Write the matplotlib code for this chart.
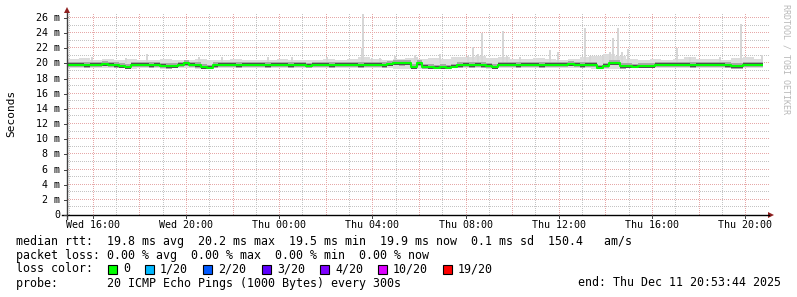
import numpy as np
import matplotlib
matplotlib.use("Agg")
import matplotlib.pyplot as plt
from matplotlib.lines import Line2D
from matplotlib.patches import Polygon, Rectangle

# ---------------- data ----------------
t_start = 14 + 53 / 60 + 44 / 3600          # Wed 14:53:44 (hours since Wed 00:00)
t_end = t_start + 30.0                      # Thu 20:53:44
data_end = t_start + 29.85

# median rtt (ms), 15-minute bins
median_ms = [
    19.8, 19.85, 19.8, 19.75, 19.85, 19.8, 19.9, 19.8, 19.75, 19.6,
    19.5, 19.8, 19.85, 19.8, 19.75, 19.8, 19.7, 19.6, 19.6, 19.85,
    20.0, 19.8, 19.75, 19.5, 19.45, 19.75, 19.8, 19.85, 19.8, 19.75,
    19.8, 19.85, 19.8, 19.8, 19.75, 19.8, 19.85, 19.8, 19.75, 19.8,
    19.8, 19.7, 19.8, 19.85, 19.8, 19.75, 19.8, 19.8, 19.85, 19.8,
    19.75, 19.8, 19.85, 19.8, 19.75, 19.9, 20.05, 20.0, 20.05, 19.5,
    20.0, 19.55, 19.5, 19.45, 19.5, 19.45, 19.55, 19.75, 19.8, 19.75,
    19.8, 19.75, 19.7, 19.5, 19.8, 19.85, 19.8, 19.75, 19.8, 19.85,
    19.8, 19.75, 19.8, 19.85, 19.8, 19.8, 19.9, 19.8, 19.75, 19.8,
    19.8, 19.45, 19.7, 20.05, 20.05, 19.6, 19.6, 19.55, 19.6, 19.65,
    19.6, 19.8, 19.85, 19.8, 19.8, 19.85, 19.8, 19.75, 19.8, 19.85,
    19.8, 19.85, 19.8, 19.75, 19.6, 19.6, 19.8, 19.85, 19.8, 19.8,
]

# smoke extent (ms), 30-minute bins
smoke_max_ms = [
    20.6, 20.7, 20.5, 20.6, 20.5, 20.6, 20.5, 20.4, 20.6, 20.5,
    20.5, 20.6, 20.4, 20.5, 20.6, 20.5, 20.4, 20.5, 20.6, 20.5,
    20.5, 20.4, 20.6, 20.5, 20.6, 20.8, 20.6, 20.5, 20.6, 20.7,
    20.6, 20.7, 20.6, 20.8, 20.9, 21.0, 20.7, 20.8, 20.6, 20.6,
    20.7, 20.6, 20.5, 20.6, 20.8, 21.0, 21.3, 21.0, 20.6, 20.5,
    20.6, 20.5, 20.6, 20.8, 20.6, 20.6, 20.5, 20.7, 20.8, 20.6,
]
smoke_min_ms = [
    19.4, 19.4, 19.45, 19.4, 19.4, 19.3, 19.4, 19.4, 19.3, 19.4,
    19.4, 19.2, 19.4, 19.4, 19.4, 19.4, 19.45, 19.4, 19.4, 19.4,
    19.4, 19.4, 19.4, 19.45, 19.4, 19.4, 19.4, 19.4, 19.3, 19.2,
    19.3, 19.2, 19.25, 19.4, 19.4, 19.4, 19.3, 19.4, 19.4, 19.4,
    19.4, 19.4, 19.45, 19.4, 19.4, 19.2, 19.3, 19.3, 19.35, 19.4,
    19.4, 19.4, 19.4, 19.4, 19.45, 19.4, 19.4, 19.3, 19.4, 19.4,
]

# isolated high pings (hour, ms)
spike_hours = [15.97, 17.43, 18.33, 20.56, 21.55, 23.52, 24.55, 26.06, 27.56, 27.60,
               27.99, 28.33, 28.97, 29.83, 29.92, 30.91, 32.11, 32.32, 32.54, 32.71,
               33.61, 33.78, 34.34, 35.63, 35.97, 37.13, 37.34, 37.90, 38.20, 38.33,
               38.54, 38.72, 38.97, 41.08, 41.63, 42.92, 43.82, 44.72]
spike_ms = [20.8, 20.7, 21.2, 20.8, 20.8, 20.8, 20.8, 20.8, 22.0, 26.5,
            20.7, 20.7, 21.0, 21.1, 20.8, 21.3, 21.0, 22.2, 21.3, 24.0,
            24.3, 21.0, 20.9, 21.8, 21.5, 24.7, 21.0, 21.0, 21.5, 23.4,
            24.7, 21.5, 21.9, 22.0, 20.9, 20.8, 25.2, 21.1]

y_ticks = [0, 2, 4, 6, 8, 10, 12, 14, 16, 18, 20, 22, 24, 26]
y_labels = ["0", "2 m", "4 m", "6 m", "8 m", "10 m", "12 m", "14 m", "16 m",
            "18 m", "20 m", "22 m", "24 m", "26 m"]
x_ticks = [16, 20, 24, 28, 32, 36, 40, 44]
x_labels = ["Wed 16:00", "Wed 20:00", "Thu 00:00", "Thu 04:00", "Thu 08:00",
            "Thu 12:00", "Thu 16:00", "Thu 20:00"]

loss_labels = ["0", "1/20", "2/20", "3/20", "4/20", "10/20", "19/20"]
loss_colors = ["#00ff00", "#00b8ff", "#0059ff", "#5e00ff", "#7e00ff", "#dd00ff", "#ff0000"]

# ---------------- figure ----------------
W, H = 797, 297
fig = plt.figure(figsize=(W / 100, H / 100), dpi=100)
fig.patch.set_facecolor("white")

def fx(x):
    return x / W

def fy(y):
    return 1 - y / H

PXH = 23.3     # pixels per hour
PXM = 7.58     # pixels per ms
ax_left, ax_right, ax_top, ax_bottom = 67, 768, 13, 215
ax = fig.add_axes([fx(ax_left), fy(ax_bottom), (ax_right - ax_left) / W, (ax_bottom - ax_top) / H])
ax.set_xlim(t_start, t_start + (ax_right - ax_left) / PXH)
ax.set_ylim(0, (ax_bottom - ax_top) / PXM)
for s in ax.spines.values():
    s.set_visible(False)
ax.set_xticks([])
ax.set_yticks([])
ax.set_facecolor("white")

xl = ax.get_xlim()
yl = ax.get_ylim()
# dotted grid drawn as single-pixel dots every 2 px
xs_dots = xl[0] + (np.arange(0.5, ax_right - ax_left, 2.0)) / PXH
ys_dots = yl[0] + (np.arange(0.5, ax_bottom - ax_top, 2.0)) / PXM
minor_col, major_col = "#c4c4c4", "#e6a8a8"
hours = np.arange(int(np.ceil(xl[0])), int(np.floor(xl[1])) + 1)
for v in range(1, 27):
    col = major_col if v % 2 == 0 else minor_col
    ax.plot(xs_dots, np.full_like(xs_dots, v), ls="none", marker=",", color=col, zorder=1)
for hh in hours:
    col = major_col if hh % 2 == 0 else minor_col
    ax.plot(np.full_like(ys_dots, hh), ys_dots, ls="none", marker=",", color=col, zorder=1)

# smoke
med = np.array(median_ms)
n = len(med)
edges = t_start + np.arange(n + 1) * 0.25
edges[-1] = data_end
smax = np.repeat(np.array(smoke_max_ms), 2)
smin = np.repeat(np.array(smoke_min_ms), 2)
tt = np.repeat(edges, 2)[1:-1]

def stepify(a):
    return np.repeat(a, 2)

ax.fill_between(tt, stepify(smin), stepify(smax), color="#dcdcdc", lw=0, zorder=2)
ax.bar(spike_hours, np.array(spike_ms) - 20.0, bottom=20.0, width=0.085,
       color="#d6d6d6", lw=0, zorder=2, align="center")
mid_lo = np.maximum(med - 0.3, smin)
mid_hi = np.minimum(med + 0.4, smax)
ax.fill_between(tt, stepify(mid_lo), stepify(mid_hi), color="#a8a8a8", lw=0, zorder=3)
ax.fill_between(tt, stepify(med - 0.2), stepify(med + 0.2), color="#505050", lw=0, zorder=4)
ax.plot(tt, stepify(med), color="#00ff00", lw=1.5, zorder=5, solid_capstyle="butt")

# axes lines + arrows
axis_col = "#404040"
arrow_col = "#902020"
fig.add_artist(Line2D([fx(67), fx(67)], [fy(219), fy(13)], color=axis_col, lw=1.0))
fig.add_artist(Line2D([fx(62), fx(769)], [fy(215), fy(215)], color="#000000", lw=1.0))
fig.add_artist(Polygon([[fx(64), fy(13)], [fx(70), fy(13)], [fx(67), fy(7)]],
                       closed=True, color=arrow_col, lw=0))
fig.add_artist(Polygon([[fx(768), fy(212)], [fx(768), fy(218)], [fx(774), fy(215)]],
                       closed=True, color=arrow_col, lw=0))

mono = "DejaVu Sans Mono"
for v, lab in zip(y_ticks, y_labels):
    ypx = ax_bottom - v * PXM
    fig.text(fx(60), fy(ypx), lab, ha="right", va="center", family=mono, size=7.2, color="#000000")
    fig.add_artist(Line2D([fx(64), fx(67)], [fy(ypx), fy(ypx)], color=axis_col, lw=0.7))
for v, lab in zip(x_ticks, x_labels):
    xpx = ax_left + (v - t_start) * PXH
    fig.text(fx(xpx), fy(225), lab, ha="center", va="center", family=mono, size=7.2, color="#000000")
    fig.add_artist(Line2D([fx(xpx), fx(xpx)], [fy(215), fy(218)], color=axis_col, lw=0.7))

fig.text(fx(11), fy(113), "Seconds", rotation=90, ha="center", va="center", family=mono, size=8)
fig.text(fx(786), fy(4), "RRDTOOL / TOBI OETIKER", rotation=270, ha="center", va="top",
         family=mono, size=6, color="#b8b8b8")

fs = 8.4
fig.text(fx(16), fy(241), "median rtt:  19.8 ms avg  20.2 ms max  19.5 ms min  19.9 ms now  0.1 ms sd  150.4   am/s",
         ha="left", va="center", family=mono, size=fs)
fig.text(fx(16), fy(255), "packet loss: 0.00 % avg  0.00 % max  0.00 % min  0.00 % now",
         ha="left", va="center", family=mono, size=fs)
fig.text(fx(16), fy(269), "loss color:", ha="left", va="center", family=mono, size=fs)
box_x = [108, 145, 203, 262, 320, 378, 443]
for bx, lab, col in zip(box_x, loss_labels, loss_colors):
    fig.add_artist(Rectangle((fx(bx), fy(274)), 9 / W, 9 / H, facecolor=col, edgecolor="black", lw=0.8))
    fig.text(fx(bx + 15), fy(269), lab, ha="left", va="center", family=mono, size=fs)
fig.text(fx(16), fy(283), "probe:       20 ICMP Echo Pings (1000 Bytes) every 300s",
         ha="left", va="center", family=mono, size=fs)
fig.text(fx(781), fy(283), "end: Thu Dec 11 20:53:44 2025", ha="right", va="center", family=mono, size=fs)

fig.savefig("out.png", dpi=100, facecolor="white")
